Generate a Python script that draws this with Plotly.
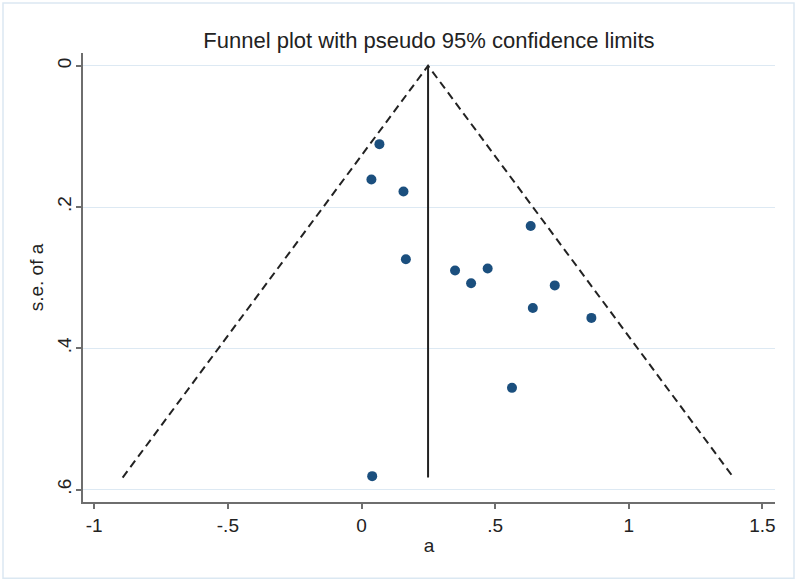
import plotly.graph_objects as go

# Study estimates (effect "a") and their standard errors
effect_a = [0.067, 0.037, 0.157, 0.166, 0.633, 0.350, 0.472, 0.410, 0.723, 0.641, 0.860, 0.563, 0.040]
se_a = [0.111, 0.161, 0.178, 0.274, 0.227, 0.290, 0.287, 0.308, 0.311, 0.343, 0.357, 0.456, 0.581]

pooled = 0.249
se_max = 0.583
z95 = 1.96

x_ticks = [-1, -0.5, 0, 0.5, 1, 1.5]
x_ticklabels = ["-1", "-.5", "0", ".5", "1", "1.5"]
y_ticks = [0, 0.2, 0.4, 0.6]
y_ticklabels = ["0", ".2", ".4", ".6"]

FONT = "Liberation Sans, Arial, sans-serif"
GRID = "#dde9f3"
AXIS = "#6e6e6e"
TXT = "#222222"

fig = go.Figure()

# pseudo 95% confidence limits
fig.add_trace(go.Scatter(
    x=[pooled - z95 * se_max, pooled, pooled + z95 * se_max],
    y=[se_max, 0, se_max],
    mode="lines",
    line=dict(color="#222222", width=2, dash="8px,5px"),
    hoverinfo="skip", showlegend=False))

# pooled estimate line
fig.add_trace(go.Scatter(
    x=[pooled, pooled], y=[0, se_max],
    mode="lines",
    line=dict(color="#222222", width=2),
    hoverinfo="skip", showlegend=False))

# studies
fig.add_trace(go.Scatter(
    x=effect_a, y=se_a, mode="markers",
    marker=dict(color="#1b4f7e", size=10),
    showlegend=False))

fig.update_layout(
    width=800, height=583,
    margin=dict(l=83, r=25, t=53, b=81, autoexpand=False),
    paper_bgcolor="white", plot_bgcolor="white",
    font=dict(family=FONT, color=TXT, size=19),
    title=dict(text="Funnel plot with pseudo 95% confidence limits",
               x=0.5, xref="paper", xanchor="center",
               y=1 - 40 / 583, yref="container", yanchor="middle",
               font=dict(size=22, family=FONT, color=TXT)),
    showlegend=False,
)

fig.update_xaxes(
    automargin=False,
    range=[-1.042, 1.547],
    tickvals=x_ticks, ticktext=x_ticklabels,
    showgrid=False, zeroline=False,
    showline=True, linecolor=AXIS, linewidth=2,
    ticks="outside", ticklen=5, tickcolor=AXIS, tickwidth=1.5,
    tickfont=dict(size=19, family=FONT, color=TXT),
    title=dict(text="a", font=dict(size=19, family=FONT, color=TXT), standoff=4),
)
fig.update_yaxes(
    automargin=False,
    range=[0.6176, -0.018],
    tickvals=y_ticks, ticktext=y_ticklabels,
    tickangle=-90,
    showgrid=True, gridcolor=GRID, gridwidth=1,
    zeroline=False,
    showline=True, linecolor=AXIS, linewidth=2,
    ticks="outside", ticklen=5, tickcolor=AXIS, tickwidth=1.5,
    ticklabelstandoff=-3,
    tickfont=dict(size=19, family=FONT, color=TXT),
    title=dict(text="s.e. of a", font=dict(size=19, family=FONT, color=TXT), standoff=6),
)

# light blue outer border of graph region
fig.add_shape(type="rect", xref="paper", yref="paper",
              x0=(3 - 83) / 692, x1=(794 - 83) / 692,
              y0=(501.7 - 578) / 448.7, y1=(501.7 - 3) / 448.7,
              line=dict(color="#dbe8f2", width=1.5), fillcolor="rgba(0,0,0,0)", layer="below")

fig.write_html("out.html",
               config={"displayModeBar": False},
               post_script="document.body.style.margin='0';document.body.style.padding='0';")
